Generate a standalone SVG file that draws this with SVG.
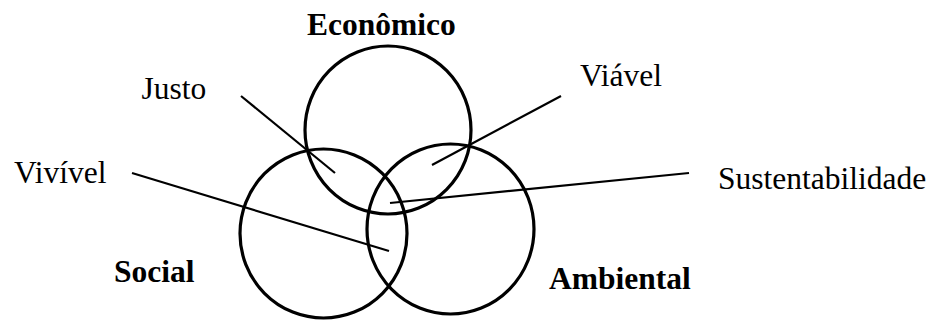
<svg xmlns="http://www.w3.org/2000/svg" width="939" height="320" viewBox="0 0 939 320">
<style>
.c{fill:none;stroke:#000;stroke-width:3.2}
.l{stroke:#000;stroke-width:2.2}
text{font-family:"Liberation Serif","Times New Roman",serif;font-size:31.5px;fill:#000}
.b{font-weight:bold}
</style>
<rect width="939" height="320" fill="#fff"/>
<g id="economico"><ellipse class="c" cx="388" cy="130" rx="83" ry="84"/><text class="b" x="307" y="35">Econômico</text></g>
<g id="social"><ellipse class="c" cx="323.5" cy="233.5" rx="83.5" ry="84.5"/><text class="b" x="114" y="282">Social</text></g>
<g id="ambiental"><ellipse class="c" cx="450.5" cy="229" rx="83.5" ry="85"/><text class="b" x="549" y="289">Ambiental</text></g>
<g id="justo"><text x="141.5" y="99">Justo</text></g>
<g id="vivivel"><text x="14" y="183">Vivível</text></g>
<g id="viavel"><text x="580" y="86">Viável</text></g>
<g id="sustentabilidade"><text x="718" y="189">Sustentabilidade</text></g>
<g id="connectors">
<line class="l" x1="241" y1="96" x2="335" y2="173"/>
<line class="l" x1="561" y1="96" x2="432" y2="165"/>
<line class="l" x1="689" y1="173" x2="390" y2="203"/>
<line class="l" x1="132" y1="173" x2="389" y2="251"/>
</g>
</svg>
